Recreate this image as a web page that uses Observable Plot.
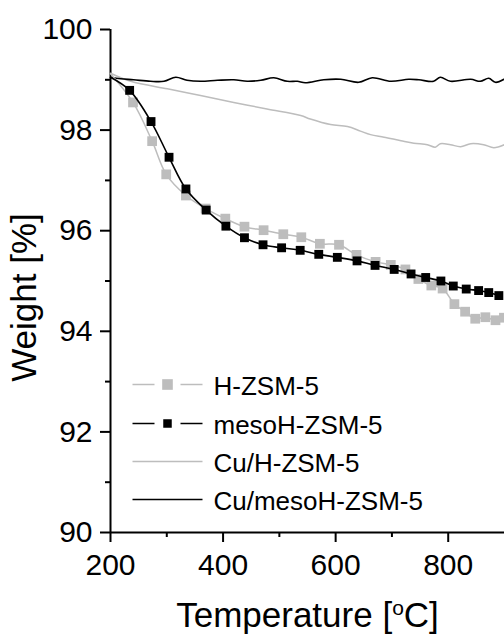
<!DOCTYPE html>
<html>
<head>
<meta charset="utf-8">
<script src="https://cdn.jsdelivr.net/npm/d3@7"></script>
<script src="https://cdn.jsdelivr.net/npm/@observablehq/plot@0.6"></script>
<style>
  html, body { margin: 0; padding: 0; background: #fff; }
  #chart { width: 504px; height: 634px; overflow: hidden; }
</style>
</head>
<body>
<div id="chart"></div>
<script>
// ---- data ----
const seriesNames = ["H-ZSM-5", "mesoH-ZSM-5", "Cu/H-ZSM-5", "Cu/mesoH-ZSM-5"];

const hT = [200, 240, 274, 299, 334, 369, 404, 438, 472, 507, 539, 572, 606, 637, 671, 698, 724, 747, 770, 790, 811, 830, 848, 866, 884, 899];
const hW = [99.12, 98.55, 97.78, 97.12, 96.70, 96.44, 96.24, 96.08, 96.01, 95.93, 95.87, 95.74, 95.72, 95.52, 95.38, 95.32, 95.23, 95.04, 94.91, 94.85, 94.54, 94.39, 94.25, 94.28, 94.22, 94.27];

const mT = [200, 234, 272, 304, 334, 370, 405, 438, 471, 504, 537, 570, 603, 638, 670, 704, 734, 760, 787, 809, 832, 854, 872, 890];
const mW = [99.05, 98.79, 98.17, 97.46, 96.83, 96.41, 96.09, 95.86, 95.72, 95.66, 95.61, 95.53, 95.47, 95.40, 95.31, 95.23, 95.14, 95.07, 95.00, 94.90, 94.84, 94.81, 94.77, 94.71];

const cuHT = [200, 236, 301, 360, 419, 478, 538, 555, 591, 621, 644, 662, 686, 716, 739, 763, 777, 786, 804, 822, 840, 863, 881, 900];
const cuHW = [99.13, 98.97, 98.82, 98.69, 98.55, 98.42, 98.29, 98.22, 98.11, 98.07, 97.98, 97.91, 97.86, 97.79, 97.74, 97.71, 97.66, 97.73, 97.71, 97.67, 97.73, 97.71, 97.65, 97.71];

const cuMT = [200, 218, 241, 271, 295, 316, 336, 360, 390, 419, 443, 467, 490, 514, 532, 546, 579, 609, 641, 665, 698, 730, 748, 774, 786, 804, 840, 857, 872, 884, 899];
const cuMW = [99.05, 99.02, 99.00, 98.97, 98.97, 99.05, 98.99, 98.97, 98.99, 99.00, 98.97, 98.99, 99.04, 98.97, 98.97, 98.94, 99.00, 99.01, 98.95, 99.04, 98.97, 99.01, 99.00, 98.97, 99.05, 98.97, 99.01, 98.97, 99.03, 98.95, 99.01];

const xMajor = [200, 400, 600, 800];
const xMinor = [300, 500, 700];
const yMajor = [90, 92, 94, 96, 98, 100];
const yMinor = [91, 93, 95, 97, 99];

const xLabel = "Temperature [oC]";
const yLabel = "Weight [%]";

// ---- layout ----
const W = 504, H = 634;
const mL = 110, mR = 0, mT0 = 29, mB = 102;
const xDom = [200, 900], yDom = [90, 100];
const GRAY = "#bdbdbd", BLACK = "#000";
const FONT = "'Liberation Sans', Arial, Helvetica, sans-serif";

const rows = (T, V) => T.map((t, i) => ({t, w: V[i]}));
const hRows = rows(hT, hW), mRows = rows(mT, mW);
const cuHRows = rows(cuHT, cuHW), cuMRows = rows(cuMT, cuMW);

// pixel -> data helpers for the in-frame legend (same linear mapping as the scales)
const px2x = px => xDom[0] + (px - mL) * (xDom[1] - xDom[0]) / (W - mR - mL);
const px2y = py => yDom[1] - (py - mT0) * (yDom[1] - yDom[0]) / (H - mB - mT0);

const legRowPx = [384, 423, 461, 499];
const legStyle = [
  {color: GRAY, marker: "big"},
  {color: BLACK, marker: "small"},
  {color: GRAY, marker: null},
  {color: BLACK, marker: null}
];
const legSegs = [], legDots = [], legTexts = [];
seriesNames.forEach((name, i) => {
  const s = legStyle[i], y = px2y(legRowPx[i]);
  if (s.marker) {
    legSegs.push({x1: px2x(132), x2: px2x(154), y, c: s.color});
    legSegs.push({x1: px2x(180), x2: px2x(202), y, c: s.color});
    legDots.push({x: px2x(167), y, c: s.color, kind: s.marker});
  } else {
    legSegs.push({x1: px2x(132), x2: px2x(202), y, c: s.color});
  }
  legTexts.push({x: px2x(213), y: px2y(legRowPx[i] + 2), name});
});

const svg = Plot.plot({
  width: W, height: H,
  marginLeft: mL, marginRight: mR, marginTop: mT0, marginBottom: mB,
  style: {fontFamily: FONT, background: "#fff", color: "#000"},
  x: {domain: xDom, label: null},
  y: {domain: yDom, label: null},
  marks: [
    // axes
    Plot.axisX({ticks: xMajor, tickSize: 10, tickPadding: 11, fontSize: 30, strokeWidth: 2, label: null}),
    Plot.axisX({ticks: xMinor, tickSize: 5, tickFormat: () => "", strokeWidth: 2, label: null}),
    Plot.axisY({ticks: yMajor, tickSize: 10, tickPadding: 8, fontSize: 30, strokeWidth: 2, label: null}),
    Plot.axisY({ticks: yMinor, tickSize: 5, tickFormat: () => "", strokeWidth: 2, label: null}),
    Plot.ruleY([yDom[0]], {stroke: BLACK, strokeWidth: 2}),
    Plot.ruleX([xDom[0]], {stroke: BLACK, strokeWidth: 2}),

    // Cu series (plain lines)
    Plot.line(cuHRows, {x: "t", y: "w", stroke: GRAY, strokeWidth: 1.5, curve: "catmull-rom"}),
    Plot.line(cuMRows, {x: "t", y: "w", stroke: BLACK, strokeWidth: 1.6, curve: "catmull-rom"}),

    // H-ZSM-5 (gray squares)
    Plot.line(hRows, {x: "t", y: "w", stroke: GRAY, strokeWidth: 1.5, curve: "catmull-rom"}),
    Plot.dot(hRows.slice(1), {x: "t", y: "w", symbol: "square", r: 5.5, fill: GRAY}),

    // mesoH-ZSM-5 (black squares)
    Plot.line(mRows, {x: "t", y: "w", stroke: BLACK, strokeWidth: 1.6, curve: "catmull-rom"}),
    Plot.dot(mRows.slice(1), {x: "t", y: "w", symbol: "square", r: 5.0, fill: BLACK}),

    // legend
    Plot.link(legSegs, {x1: "x1", x2: "x2", y1: "y", y2: "y", stroke: "c", strokeWidth: 1.5}),
    Plot.dot(legDots.filter(d => d.kind === "big"), {x: "x", y: "y", r: 6, fill: "c", symbol: "square"}),
    Plot.dot(legDots.filter(d => d.kind === "small"), {x: "x", y: "y", r: 4.8, fill: "c", symbol: "square"}),
    Plot.text(legTexts, {x: "x", y: "y", text: "name", textAnchor: "start", lineAnchor: "middle", fontSize: 26, fill: BLACK}),

    // axis titles
    Plot.text([xLabel], {frameAnchor: "bottom", dy: 94, lineAnchor: "bottom", fontSize: 35, fill: BLACK}),
    Plot.text([yLabel], {frameAnchor: "left", rotate: -90, dx: -85.5, dy: 16.5, lineAnchor: "middle", textAnchor: "middle", fontSize: 35, fill: BLACK})
  ]
});

// superscript "o" in the x-axis title
d3.select(svg).selectAll("text").filter(function () { return this.textContent === xLabel; })
  .each(function () {
    const t = d3.select(this);
    t.text(null);
    t.append("tspan").text("Temperature [");
    t.append("tspan").text("o").attr("font-size", 21).attr("dy", -12);
    t.append("tspan").text("C]").attr("dy", 12);
  });

document.getElementById("chart").appendChild(svg);
</script>
</body>
</html>
